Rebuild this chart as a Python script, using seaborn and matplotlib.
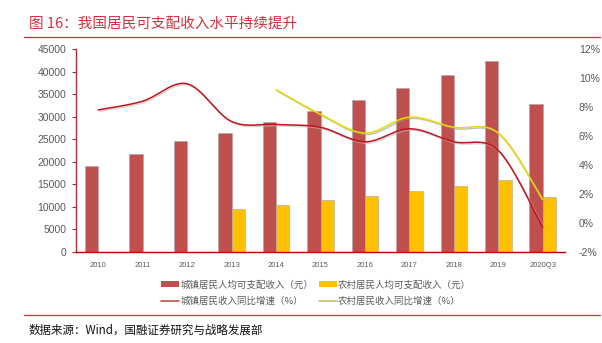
import numpy as np
import pandas as pd
import matplotlib
matplotlib.use("Agg")
import matplotlib.pyplot as plt
import matplotlib.patheffects as pe
from matplotlib.lines import Line2D
from matplotlib.patches import Patch
import seaborn as sns

years = ['2010', '2011', '2012', '2013', '2014', '2015', '2016', '2017', '2018', '2019', '2020Q3']
urban_income = [19109, 21810, 24565, 26467, 28844, 31195, 33616, 36396, 39251, 42359, 32821]
rural_income = [np.nan, np.nan, np.nan, 9430, 10489, 11422, 12363, 13432, 14617, 16021, 12297]
urban_growth = [7.8, 8.4, 9.6, 7.0, 6.8, 6.6, 5.6, 6.5, 5.6, 5.0, -0.3]
rural_growth = [np.nan, np.nan, np.nan, np.nan, 9.2, 7.5, 6.2, 7.3, 6.6, 6.2, 1.6]

s_urban = '城镇居民人均可支配收入（元）'
s_rural = '农村居民人均可支配收入（元）'
l_urban = '城镇居民收入同比增速（%）'
l_rural = '农村居民收入同比增速（%）'

c_urban = '#C0504D'
c_rural = '#FFC000'
c_uline = '#C0141E'
c_rline = '#E8DA00'
red = '#D0313C'
grey = '#595959'

sns.set_style('white')
plt.rcParams['font.family'] = ['Noto Sans CJK SC', 'DejaVu Sans']

df = pd.DataFrame({
    'year': years * 2,
    'series': [s_urban] * len(years) + [s_rural] * len(years),
    'value': urban_income + rural_income,
})

fig = plt.figure(figsize=(6.02, 3.43), dpi=100)
ax = fig.add_axes([76 / 602, 1 - 252 / 343, (565 - 76) / 602, (252 - 49) / 343])

sns.barplot(data=df, x='year', y='value', hue='series', hue_order=[s_urban, s_rural],
            order=years, palette=[c_urban, c_rural], width=0.6, saturation=1,
            edgecolor='#A8A8A8', linewidth=0.4, legend=False, ax=ax)

ax.set_xlim(-0.5, len(years) - 0.5)
ax.set_ylim(0, 45000)
ax.set_yticks(np.arange(0, 45001, 5000))
ax.set_yticklabels([str(v) for v in range(0, 45001, 5000)], family='Liberation Sans',
                   fontsize=7.5, color=grey)
ax.set_xticks(range(len(years)))
ax.set_xticklabels(years, family='Liberation Sans', fontsize=5.5, color=grey)
ax.set_xticks(np.arange(-0.5, len(years)), minor=True)
ax.tick_params(axis='x', which='major', length=0, pad=7)
ax.tick_params(axis='x', which='minor', length=3, color='#C00000', width=0.8, direction='out')
ax.tick_params(axis='y', length=3, color='#B02828', width=0.8, direction='out', pad=4)
ax.set_xlabel('')
ax.set_ylabel('')
for s in ['top', 'right']:
    ax.spines[s].set_visible(False)
ax.spines['left'].set_color('#A83030')
ax.spines['left'].set_linewidth(1.0)
ax.spines['bottom'].set_color('#C00000')
ax.spines['bottom'].set_linewidth(1.0)


def smooth(xv, yv, n=30):
    xv = np.asarray(xv, float)
    yv = np.asarray(yv, float)
    px, py = [], []
    m = len(xv)
    for i in range(m - 1):
        i0 = max(i - 1, 0)
        i3 = min(i + 2, m - 1)
        p0 = np.array([xv[i0], yv[i0]])
        p1 = np.array([xv[i], yv[i]])
        p2 = np.array([xv[i + 1], yv[i + 1]])
        p3 = np.array([xv[i3], yv[i3]])
        c1 = p1 + (p2 - p0) / 6
        c2 = p2 - (p3 - p1) / 6
        t = np.linspace(0, 1, n)[:, None]
        b = ((1 - t) ** 3) * p1 + 3 * ((1 - t) ** 2) * t * c1 + 3 * (1 - t) * t ** 2 * c2 + t ** 3 * p2
        px.extend(b[:, 0])
        py.extend(b[:, 1])
    return np.array(px), np.array(py)


ax2 = ax.twinx()
ax2.set_position(ax.get_position())
idx = np.arange(len(years))
ug = np.array(urban_growth, float)
rg = np.array(rural_growth, float)
mu = ~np.isnan(ug)
mr = ~np.isnan(rg)
ux, uy = smooth(idx[mu], ug[mu])
rx, ry = smooth(idx[mr], rg[mr])
ax2.plot(ux, uy, color=c_uline, lw=1.1,
         path_effects=[pe.SimpleLineShadow(offset=(1, -1), shadow_color='#BBBBBB', alpha=0.6), pe.Normal()])
ax2.plot(rx, ry, color=c_rline, lw=1.1,
         path_effects=[pe.SimpleLineShadow(offset=(1, -1), shadow_color='#999999', alpha=0.6), pe.Normal()])
ax2.set_ylim(-2, 12)
ax2.set_yticks(range(-2, 13, 2))
ax2.set_yticklabels([f'{v}%' for v in range(-2, 13, 2)], family='Liberation Sans',
                    fontsize=7.5, color=grey)
ax2.tick_params(axis='y', length=0, pad=10)
for s in ['top', 'right', 'left', 'bottom']:
    ax2.spines[s].set_visible(False)
ax2.set_xlim(-0.5, len(years) - 0.5)

# title and rules
fig.text(29 / 602, 1 - 24 / 343, '图 16：我国居民可支配收入水平持续提升', color=red,
         fontsize=10.5, va='center', ha='left')
fig.add_artist(Line2D([24 / 602, 600 / 602], [1 - 37 / 343] * 2, color=red, lw=0.9))
fig.add_artist(Line2D([24 / 602, 600 / 602], [1 - 315 / 343] * 2, color=red, lw=0.9))
fig.text(29 / 602, 1 - 330 / 343, '数据来源：Wind，国融证券研究与战略发展部', color='#111111',
         fontsize=8.3, va='center', ha='left')

handles = [
    Patch(facecolor=c_urban, edgecolor='none'),
    Line2D([0], [0], color='#C0504D', lw=1.2),
    Patch(facecolor=c_rural, edgecolor='none'),
    Line2D([0], [0], color='#C8C070', lw=1.2),
]
labels = [s_urban, l_urban, s_rural, l_rural]
leg = fig.legend(handles, labels, ncol=2, loc='center', bbox_to_anchor=(316 / 602, 1 - 293 / 343),
                 frameon=False, fontsize=6.8, handlelength=1.9, handleheight=0.6,
                 handletextpad=0.15, columnspacing=0.6, labelspacing=0.75)
for t in leg.get_texts():
    t.set_color(grey)

fig.savefig('out.png', dpi=100)
